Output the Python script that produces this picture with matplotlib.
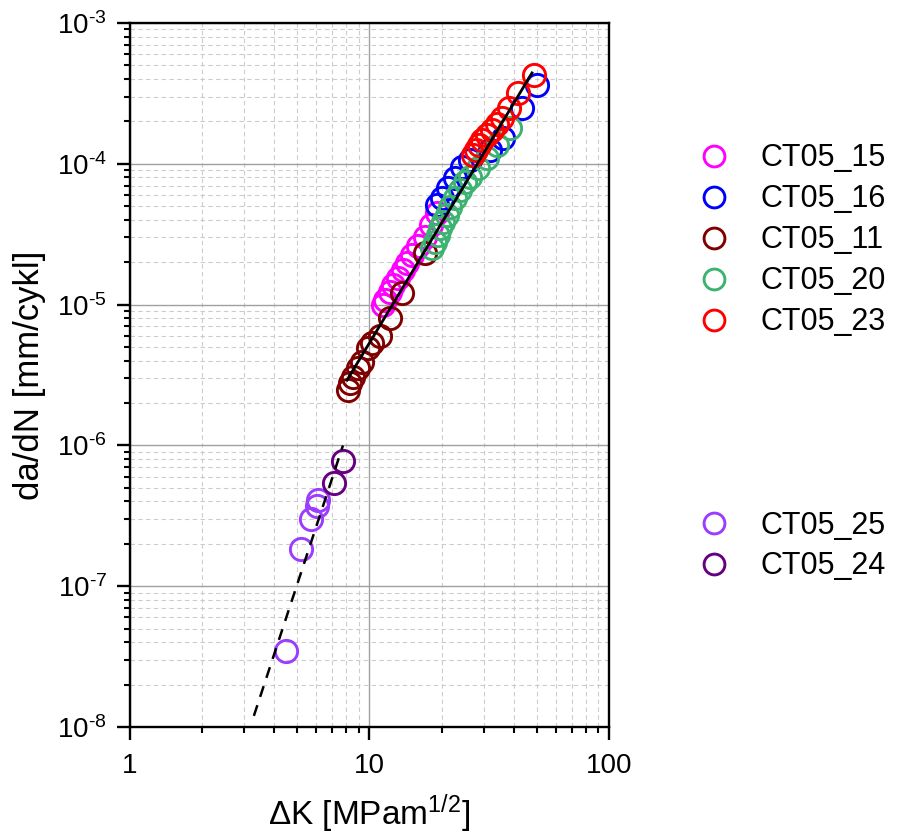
import matplotlib
matplotlib.use('Agg')
import matplotlib.pyplot as plt
from matplotlib.lines import Line2D
from matplotlib.ticker import FixedLocator, LogLocator, NullFormatter

plt.rcParams['font.family'] = ['Liberation Sans', 'DejaVu Sans']
plt.rcParams['mathtext.fontset'] = 'custom'
plt.rcParams['mathtext.rm'] = 'Liberation Sans'
plt.rcParams['mathtext.it'] = 'Liberation Sans'

# delta K [MPa m^1/2] and da/dN [mm/cycle]
dk_15 = [11.4, 11.6, 12.2, 12.5, 13.2, 13.8, 14.4, 15.0, 15.9, 17.1, 18.1, 19.1]
da_15 = [9.9e-6, 1.08e-5, 1.23e-5, 1.38e-5, 1.55e-5, 1.76e-5, 1.97e-5, 2.25e-5,
         2.61e-5, 3.02e-5, 3.67e-5, 4.48e-5]

dk_16 = [19.1, 20.1, 21.3, 22.8, 24.3, 26.3, 31.8, 36.1, 43.4, 50.0]
da_16 = [5.1e-5, 5.7e-5, 6.7e-5, 7.9e-5, 9.5e-5, 1.06e-4, 1.25e-4, 1.52e-4,
         2.49e-4, 3.63e-4]

dk_11 = [8.13, 8.29, 8.53, 8.95, 9.31, 9.86, 10.2, 11.1, 12.2, 13.7, 17.1]
da_11 = [2.47e-6, 2.77e-6, 3.06e-6, 3.55e-6, 3.91e-6, 4.92e-6, 5.34e-6, 5.98e-6,
         8.03e-6, 1.21e-5, 2.32e-5]

dk_20 = [18.2, 18.8, 19.3, 19.7, 20.3, 21.1, 21.7, 22.8, 23.9, 25.0, 26.3, 28.4,
         31.0, 34.1, 38.6]
da_20 = [2.52e-5, 2.78e-5, 3.12e-5, 3.50e-5, 3.86e-5, 4.33e-5, 4.93e-5, 5.71e-5,
         6.52e-5, 7.43e-5, 8.05e-5, 9.33e-5, 1.10e-4, 1.36e-4, 1.80e-4]

dk_23 = [27.0, 27.8, 28.7, 29.5, 30.9, 32.5, 34.1, 35.7, 38.2, 41.7, 48.6]
da_23 = [1.16e-4, 1.25e-4, 1.36e-4, 1.48e-4, 1.60e-4, 1.74e-4, 1.92e-4, 2.11e-4,
         2.49e-4, 3.18e-4, 4.27e-4]

dk_25 = [4.48, 5.18, 5.70, 6.04, 6.10]
da_25 = [3.47e-8, 1.84e-7, 3.0e-7, 3.71e-7, 4.1e-7]

dk_24 = [7.11, 7.75]
da_24 = [5.41e-7, 7.75e-7]

# fitted lines (end points)
fit_hi_dk = [8.06, 47.7]
fit_hi_da = [2.91e-6, 4.42e-4]
fit_lo_dk = [3.29, 7.75]
fit_lo_da = [1.2e-8, 1.0e-6]

series = [
    ('CT05_15', dk_15, da_15, '#ff00ff'),
    ('CT05_16', dk_16, da_16, '#0000ff'),
    ('CT05_11', dk_11, da_11, '#800000'),
    ('CT05_20', dk_20, da_20, '#3cb371'),
    ('CT05_23', dk_23, da_23, '#ff0000'),
    ('CT05_25', dk_25, da_25, '#9b3cff'),
    ('CT05_24', dk_24, da_24, '#660080'),
]

fig = plt.figure(figsize=(8.99, 8.40), dpi=100)
ax = fig.add_axes([0.1446, 0.1345, 0.5328, 0.8381])

handles = []
for name, x, y, c in series:
    ax.plot(x, y, 'o', ms=16, mfc='none', mec=c, mew=2.1, zorder=3)
    handles.append(Line2D([], [], ls='none', marker='o', ms=15, mfc='none',
                          mec=c, mew=2.1, label=name))

ax.plot(fit_hi_dk, fit_hi_da, color='black', lw=2.0, zorder=4)
ax.plot(fit_lo_dk, fit_lo_da, color='black', lw=1.8, ls=(0, (4.5, 3.5)), zorder=4)

ax.set_xscale('log')
ax.set_yscale('log')
ax.set_xlim(1, 100)
ax.set_ylim(1e-8, 1e-3)

ax.xaxis.set_major_locator(FixedLocator([1, 10, 100]))
ax.set_xticklabels(['1', '10', '100'])
ax.xaxis.set_minor_locator(LogLocator(base=10, subs=range(2, 10)))
ax.xaxis.set_minor_formatter(NullFormatter())
yt = [1e-8, 1e-7, 1e-6, 1e-5, 1e-4, 1e-3]
ax.yaxis.set_major_locator(FixedLocator(yt))
ax.set_yticklabels([r'$\mathregular{10^{\text{-}%d}}$' % e for e in [8, 7, 6, 5, 4, 3]])
ax.yaxis.set_minor_locator(LogLocator(base=10, subs=range(2, 10)))
ax.yaxis.set_minor_formatter(NullFormatter())

ax.grid(True, which='major', color='#a0a0a0', lw=1.0, ls='-')
ax.grid(True, which='minor', color='#cccccc', lw=0.8, ls=(0, (4, 3)))
ax.set_axisbelow(True)

for s in ax.spines.values():
    s.set_linewidth(1.7)
ax.tick_params(which='major', direction='out', length=9.5, width=1.7,
               labelsize=20, top=False, right=False)
ax.tick_params(which='minor', direction='out', length=4.3, width=1.5,
               top=False, right=False)
ax.tick_params(axis='x', which='major', pad=9)
ax.tick_params(axis='y', which='major', pad=7)

ax.set_xlabel(r'$\mathregular{\Delta K\ [MPam^{1/2}]}$', fontsize=24, labelpad=10)
ax.set_ylabel('da/dN [mm/cykl]', fontsize=25, labelpad=8)

fig.legend(handles=handles[:5], loc='center left',
           bbox_to_anchor=(0.747, 0.714), frameon=False, fontsize=22,
           handlelength=1.0, handletextpad=1.0, labelspacing=0.36)
fig.legend(handles=handles[5:], loc='center left',
           bbox_to_anchor=(0.747, 0.350), frameon=False, fontsize=22,
           handlelength=1.0, handletextpad=1.0, labelspacing=0.36)

fig.savefig('out.png', dpi=100)
